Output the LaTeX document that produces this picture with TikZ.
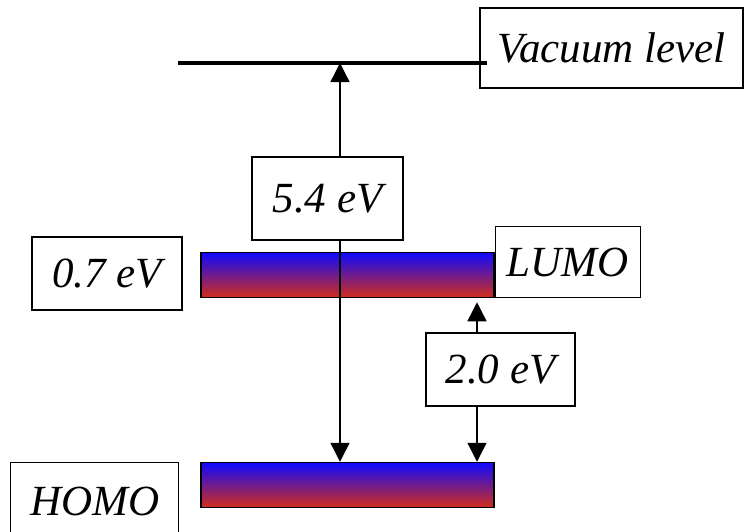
\documentclass[tikz,border=0pt]{standalone}
\usepackage{fontspec}
\setmainfont{Liberation Serif}
\usetikzlibrary{arrows.meta}

\tikzset{
  label box/.style={draw, line width=1.3pt, fill=white, inner sep=0pt,
    font=\fontsize{43}{50}\selectfont\itshape},
  level bar/.style={draw, line width=1.5pt, inner sep=0pt,
    minimum width=293pt, minimum height=45pt,
    top color={rgb,255:red,15;green,10;blue,255},
    middle color={rgb,255:red,140;green,35;blue,195},
    bottom color={rgb,255:red,210;green,45;blue,25}},
  gap arrow/.style={line width=1.4pt, -{Triangle[length=19pt,width=19pt]}}
}

\begin{document}
\begin{tikzpicture}[x=1pt, y=-1pt]
  \useasboundingbox (0,0) rectangle (744,531);

  % Levels
  \node[level bar] (lumo) at (347.5,275) {};
  \node[level bar] (homo) at (347.5,485) {};
  \node[label box, minimum width=263pt, minimum height=80pt] (vaclabel) at (611.5,48) {Vacuum level};
  \coordinate (vacL) at (178,63);
  \coordinate (vacR) at (487,63);
  \draw[line width=4.5pt] (vacL) -- (vacR);

  % Labels
  \node[label box, minimum width=151pt, minimum height=83pt] (wf) at (327.5,198.5) {5.4 eV};
  \node[label box, minimum width=150pt, minimum height=73pt] (ea) at (107,273.5) {0.7 eV};
  \node[label box, minimum width=145pt, minimum height=71pt, anchor=south west] (lumolabel) at (lumo.south east) {LUMO};
  \node[label box, minimum width=149pt, minimum height=73pt] (gap) at (500.5,369.5) {2.0 eV};
  \node[label box, minimum width=168pt, minimum height=78pt, anchor=north west] (homolabel) at (10,462) {HOMO};

  % Arrows
  \coordinate (a) at (340,0);
  \coordinate (b) at (477,0);
  \draw[gap arrow] (wf.north -| a) -- (vacL -| a);
  \draw[gap arrow] (wf.south -| a) -- (homo.north -| a);
  \draw[gap arrow] (gap.north -| b) -- ([yshift=-4pt]lumo.south -| b);
  \draw[gap arrow] (gap.south -| b) -- (homo.north -| b);
\end{tikzpicture}
\end{document}
